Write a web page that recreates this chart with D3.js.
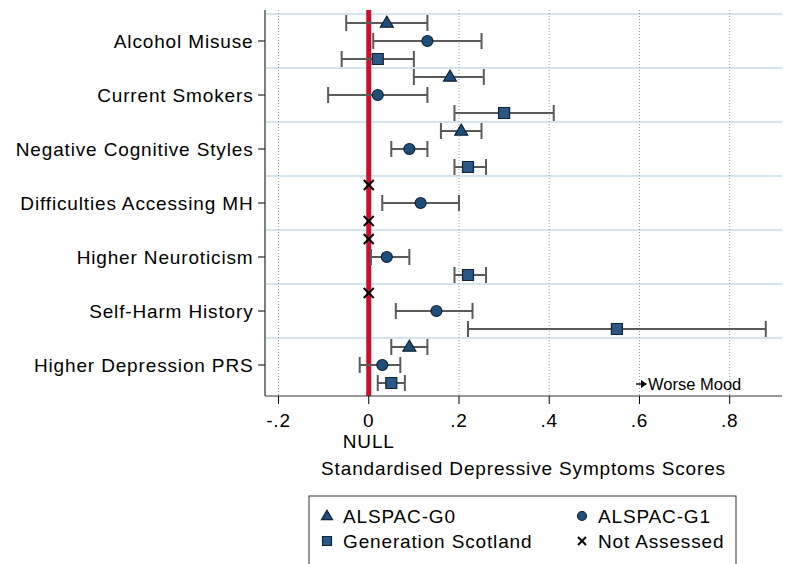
<!DOCTYPE html>
<html>
<head>
<meta charset="utf-8">
<script src="https://cdn.jsdelivr.net/npm/d3@7/dist/d3.min.js"></script>
<style>
  html, body { margin: 0; padding: 0; background: #fff; }
  svg { display: block; font-family: "Liberation Sans", Arial, sans-serif; }
  .lbl { font-size: 19px; letter-spacing: 0.85px; }
</style>
</head>
<body>
<svg id="chart" width="787" height="564"></svg>
<script>
// Risk factors (rows) and cohorts (series)
const categories = [
  "Alcohol Misuse",
  "Current Smokers",
  "Negative Cognitive Styles",
  "Difficulties Accessing MH",
  "Higher Neuroticism",
  "Self-Harm History",
  "Higher Depression PRS"
];
const seriesNames = ["ALSPAC-G0", "ALSPAC-G1", "Generation Scotland"];

// Estimates with 95% CIs; null = not assessed in that cohort
const g0Est = [0.04, 0.18, 0.205, null, null, null, 0.09];
const g0Lo  = [-0.05, 0.10, 0.16, null, null, null, 0.05];
const g0Hi  = [0.13, 0.255, 0.25, null, null, null, 0.13];

const g1Est = [0.13, 0.02, 0.09, 0.115, 0.04, 0.15, 0.03];
const g1Lo  = [0.01, -0.09, 0.05, 0.03, 0.005, 0.06, -0.02];
const g1Hi  = [0.25, 0.13, 0.13, 0.20, 0.09, 0.23, 0.07];

const gsEst = [0.02, 0.30, 0.22, null, 0.22, 0.55, 0.05];
const gsLo  = [-0.06, 0.19, 0.19, null, 0.19, 0.22, 0.02];
const gsHi  = [0.10, 0.41, 0.26, null, 0.26, 0.88, 0.08];

const xTicks = [-0.2, 0, 0.2, 0.4, 0.6, 0.8];
const xTickLabels = ["-.2", "0", ".2", ".4", ".6", ".8"];

const series = [
  { name: seriesNames[0], shape: "triangle", est: g0Est, lo: g0Lo, hi: g0Hi },
  { name: seriesNames[1], shape: "circle",   est: g1Est, lo: g1Lo, hi: g1Hi },
  { name: seriesNames[2], shape: "square",   est: gsEst, lo: gsLo, hi: gsHi }
];

const svg = d3.select("#chart");
const plot = { left: 265, right: 782, top: 10, bottom: 396 };

const x = d3.scaleLinear().domain([-0.2, 0.8]).range([278.5, 729.7]);
const y = d3.scaleBand().domain(categories).range([14, 392]).padding(0);
const ySub = d3.scalePoint().domain(seriesNames).range([-18, 18]);

const markFill = "#1f4e79";
const markStroke = "#0e2438";

function symbolPath(shape, size) {
  const s = size;
  if (shape === "triangle") {
    const h = s * 0.85;
    return `M0,${-h * 0.62}L${s / 2},${h * 0.38}L${-s / 2},${h * 0.38}Z`;
  }
  if (shape === "square") {
    return `M${-s / 2},${-s / 2}h${s}v${s}h${-s}Z`;
  }
  return null;
}

function drawMarker(g, shape, cx, cy, size) {
  if (shape === "circle") {
    g.append("circle").attr("cx", cx).attr("cy", cy).attr("r", size / 2)
      .attr("fill", markFill).attr("stroke", markStroke).attr("stroke-width", 1.2);
  } else if (shape === "cross") {
    const h = size / 2;
    g.append("path")
      .attr("d", `M${cx - h},${cy - h}L${cx + h},${cy + h}M${cx - h},${cy + h}L${cx + h},${cy - h}`)
      .attr("stroke", "#000").attr("stroke-width", 2).attr("fill", "none");
  } else {
    g.append("path").attr("d", symbolPath(shape, size))
      .attr("transform", `translate(${cx},${cy})`)
      .attr("fill", shape === "square" ? "#2a5783" : markFill)
      .attr("stroke", markStroke).attr("stroke-width", 1.2);
  }
}

// Group separators
svg.append("g").selectAll("line").data(categories).join("line")
  .attr("x1", plot.left + 1).attr("x2", plot.right)
  .attr("y1", d => y(d)).attr("y2", d => y(d))
  .attr("stroke", "#d5e3ec").attr("stroke-width", 2);

// Vertical dotted gridlines
svg.append("g").selectAll("line").data(xTicks.filter(t => t !== 0)).join("line")
  .attr("x1", d => x(d)).attr("x2", d => x(d))
  .attr("y1", plot.top).attr("y2", plot.bottom)
  .attr("stroke", "#9a9a9a").attr("stroke-width", 1)
  .attr("stroke-dasharray", "1,2");

// Null reference line
svg.append("line")
  .attr("x1", x(0)).attr("x2", x(0))
  .attr("y1", plot.top).attr("y2", plot.bottom)
  .attr("stroke", "#c8102e").attr("stroke-width", 5);

// Confidence intervals and point estimates
const marks = svg.append("g");
series.forEach(s => {
  categories.forEach((c, i) => {
    const cy = y(c) + y.bandwidth() / 2 + ySub(s.name);
    if (s.est[i] === null) {
      drawMarker(marks, "cross", x(0), cy, 10);
      return;
    }
    const x1 = x(s.lo[i]), x2 = x(s.hi[i]);
    const cap = 8;
    marks.append("path")
      .attr("d", `M${x1},${cy}H${x2}M${x1},${cy - cap}V${cy + cap}M${x2},${cy - cap}V${cy + cap}`)
      .attr("stroke", "#5a5a5a").attr("stroke-width", 2).attr("fill", "none");
    const size = s.shape === "triangle" ? 13 : 11;
    drawMarker(marks, s.shape, x(s.est[i]), cy, size);
  });
});

// Y axis
svg.append("line").attr("x1", plot.left).attr("x2", plot.left)
  .attr("y1", plot.top).attr("y2", plot.bottom)
  .attr("stroke", "#000").attr("stroke-width", 1);
const yAx = svg.append("g");
categories.forEach(c => {
  const cy = y(c) + y.bandwidth() / 2;
  yAx.append("line").attr("x1", plot.left - 7).attr("x2", plot.left)
    .attr("y1", cy).attr("y2", cy).attr("stroke", "#000").attr("stroke-width", 1);
  yAx.append("text").attr("class", "lbl").attr("x", 253.5).attr("y", cy + 7)
    .attr("text-anchor", "end").attr("fill", "#000").text(c);
});

// X axis
svg.append("line").attr("x1", plot.left).attr("x2", plot.right)
  .attr("y1", plot.bottom).attr("y2", plot.bottom)
  .attr("stroke", "#333").attr("stroke-width", 1);
const xAx = svg.append("g");
xTicks.forEach((t, i) => {
  xAx.append("line").attr("x1", x(t)).attr("x2", x(t))
    .attr("y1", plot.bottom).attr("y2", plot.bottom + 8)
    .attr("stroke", "#000").attr("stroke-width", 1);
  xAx.append("text").attr("class", "lbl").attr("x", x(t)).attr("y", 427)
    .attr("text-anchor", "middle").text(xTickLabels[i]);
});
svg.append("text").attr("class", "lbl").attr("x", x(0)).attr("y", 448)
  .attr("text-anchor", "middle").text("NULL");
svg.append("text").attr("class", "lbl").attr("x", (plot.left + plot.right) / 2).attr("y", 475)
  .attr("text-anchor", "middle")
  .text("Standardised Depressive Symptoms Scores");

// Direction note
const noteY = 384;
svg.append("path")
  .attr("d", `M636,${noteY}H643`)
  .attr("stroke", "#000").attr("stroke-width", 1.4).attr("fill", "none");
svg.append("path")
  .attr("d", `M641,${noteY - 4}L647,${noteY}L641,${noteY + 4}Z`)
  .attr("fill", "#000");
svg.append("text").attr("x", 648).attr("y", noteY + 6)
  .attr("font-size", 16.5).text("Worse Mood");

// Legend
const lg = svg.append("g");
lg.append("rect").attr("x", 309).attr("y", 496).attr("width", 427).attr("height", 90)
  .attr("fill", "#fff").attr("stroke", "#333").attr("stroke-width", 1);
const legendItems = [
  { label: "ALSPAC-G0", shape: "triangle", lx: 327, ly: 516 },
  { label: "ALSPAC-G1", shape: "circle", lx: 582, ly: 516 },
  { label: "Generation Scotland", shape: "square", lx: 327, ly: 541 },
  { label: "Not Assessed", shape: "cross", lx: 582, ly: 541 }
];
legendItems.forEach(it => {
  const sz = it.shape === "triangle" ? 11 : it.shape === "cross" ? 8 : 9;
  drawMarker(lg, it.shape, it.lx, it.ly, sz);
  lg.append("text").attr("class", "lbl").attr("x", it.lx + 16).attr("y", it.ly + 7)
    .text(it.label);
});
</script>
</body>
</html>
